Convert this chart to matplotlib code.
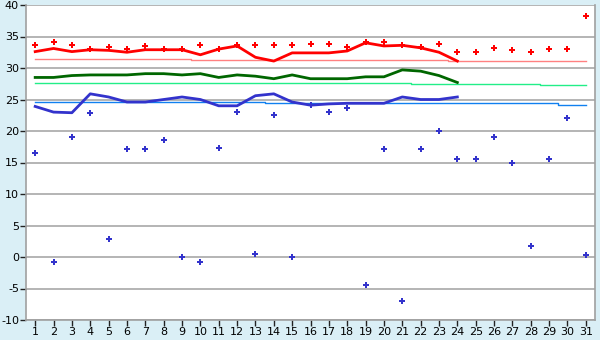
import matplotlib
matplotlib.use("Agg")
import matplotlib.pyplot as plt

plt.rcParams["axes.unicode_minus"] = False

days = list(range(1, 32))
ma_days = list(range(1, 25))

daily_max = [33.6, 34.1, 33.6, 33.0, 33.3, 33.0, 33.5, 33.0, 33.0, 33.6,
             33.0, 33.6, 33.6, 33.6, 33.6, 33.8, 33.8, 33.3, 34.1, 34.1,
             33.6, 33.3, 33.8, 32.5, 32.5, 33.1, 32.8, 32.5, 33.0, 33.0, 38.2]
daily_min = [16.5, -0.8, 19.0, 22.8, 2.8, 17.1, 17.1, 18.5, 0.0, -0.8,
             17.25, 23.0, 0.4, 22.5, 0.0, 24.1, 23.0, 23.6, -4.5, 17.1,
             -7.0, 17.1, 20.0, 15.5, 15.5, 19.0, 15.0, 1.7, 15.5, 22.0, 0.3]

ma_max = [32.6, 33.1, 32.6, 32.9, 32.8, 32.5, 32.9, 32.9, 32.9, 32.1,
          33.0, 33.5, 31.7, 31.1, 32.4, 32.4, 32.4, 32.7, 34.0, 33.5,
          33.6, 33.2, 32.5, 31.1]
ma_mean = [28.5, 28.5, 28.8, 28.9, 28.9, 28.9, 29.1, 29.1, 28.9, 29.1,
           28.5, 28.9, 28.7, 28.3, 28.9, 28.3, 28.3, 28.3, 28.6, 28.6,
           29.7, 29.5, 28.8, 27.7]
ma_min = [23.9, 23.0, 22.9, 25.9, 25.4, 24.6, 24.6, 25.0, 25.4, 25.0,
          24.0, 24.0, 25.6, 25.9, 24.6, 24.1, 24.3, 24.4, 24.4, 24.4,
          25.4, 25.0, 25.0, 25.4]

norm_max = [31.4] * 9 + [31.2] * 14 + [31.1] * 8
norm_mean = [27.6] * 21 + [27.4] * 7 + [27.25] * 3
norm_min = [24.55] * 13 + [24.4] * 16 + [24.2] * 2

yticks = list(range(-10, 41, 5))

bg = "#DAEFF6"
fig = plt.figure(figsize=(6, 3.4), dpi=100, facecolor=bg)
ax = fig.add_axes([26 / 600, 1 - 320 / 340, 569 / 600, 315 / 340])
ax.set_facecolor("white")

ax.set_xlim(0.5, 31.5)
ax.set_ylim(-10, 40)
ax.set_yticks(yticks)
ax.set_xticks(days)
ax.grid(axis="y", color="#A8A8A8", linewidth=1.2)
ax.set_axisbelow(True)

ax.plot(days, norm_max, drawstyle="steps-mid", color="#FF8080", lw=1.0)
ax.plot(days, norm_mean, drawstyle="steps-mid", color="#22EE88", lw=1.0)
ax.plot(days, norm_min, drawstyle="steps-mid", color="#1080F0", lw=1.0)

ax.plot(ma_days, ma_max, color="#FF0000", lw=2.0)
ax.plot(ma_days, ma_mean, color="#006600", lw=2.0)
ax.plot(ma_days, ma_min, color="#3333CC", lw=2.0)

ax.plot(days, daily_max, "P", color="#FF0000", ms=4.5, mew=0, ls="none")
ax.plot(days, daily_min, "P", color="#3333CC", ms=4.5, mew=0, ls="none")

for s in ["left", "bottom", "right", "top"]:
    ax.spines[s].set_color("#A0A0A0")
    ax.spines[s].set_linewidth(1.2)
ax.spines["top"].set_visible(False)

ax.tick_params(axis="x", length=4, width=1, color="#222222", labelsize=8, pad=1)
ax.tick_params(axis="y", length=4, width=1, color="#222222", labelsize=8, pad=1)

fig.savefig("out.png", dpi=100, facecolor=bg)
